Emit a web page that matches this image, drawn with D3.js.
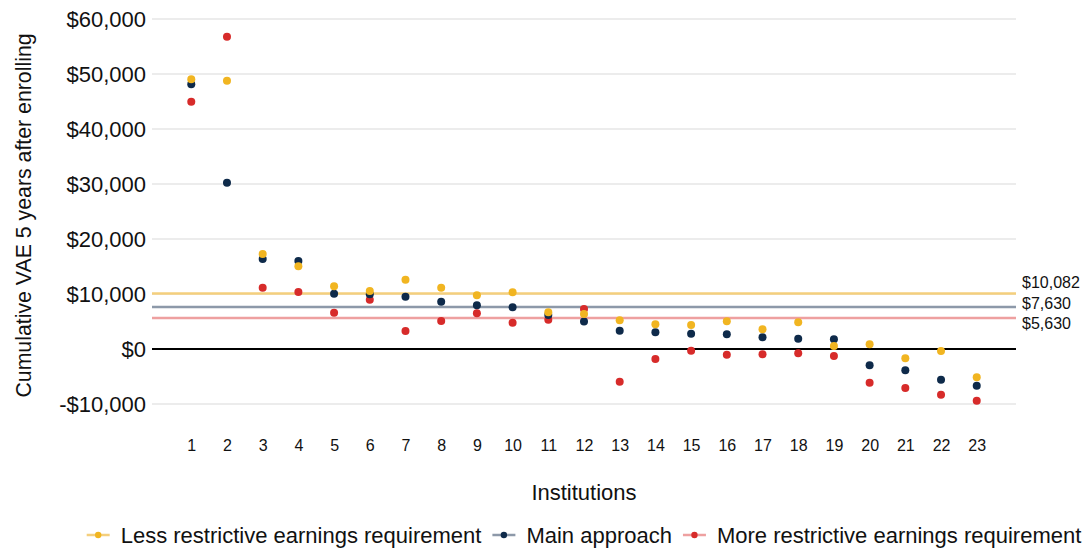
<!DOCTYPE html>
<html>
<head>
<meta charset="utf-8">
<script src="https://cdn.jsdelivr.net/npm/d3@7/dist/d3.min.js"></script>
<style>
  html, body { margin: 0; padding: 0; background: #fff; }
  svg { display: block; font-family: "Liberation Sans", Arial, sans-serif; }
</style>
</head>
<body>
<svg id="chart" width="1085" height="548"></svg>
<script>
// Institutions 1..23
const institutions = d3.range(1, 24);

// Cumulative value-added earnings 5 years after enrolling, per approach
const lessRestrictive = [49030, 48780, 17270, 15030, 11390, 10540, 12600, 11150, 9760, 10300, 6670, 6360,
                         5210, 4480, 4360, 5030, 3580, 4850, 550, 850, -1700, -360, -5150];
const mainApproach    = [48120, 30240, 16360, 16000, 10060, 9950, 9510, 8600, 7940, 7580, 6180, 5000,
                         3330, 3030, 2790, 2670, 2120, 1880, 1760, -2970, -3880, -5580, -6670];
const moreRestrictive = [44960, 56780, 11150, 10360, 6600, 8970, 3270, 5090, 6490, 4790, 5330, 7270,
                         -5940, -1820, -300, -1030, -970, -790, -1270, -6120, -7090, -8300, -9390];

// Averages across institutions for each approach
const averageValues = [10082, 7630, 5630];
const averageLabels = ["$10,082", "$7,630", "$5,630"];

const yTicks = [-10000, 0, 10000, 20000, 30000, 40000, 50000, 60000];
const seriesNames = ["Less restrictive earnings requirement", "Main approach", "More restrictive earnings requirement"];

const dotColors  = ["#F1B521", "#0E2A4A", "#D72B2A"];
const lineColors = ["#F4CF7D", "#8D99A9", "#EEA0A0"];

const svg = d3.select("#chart");
const plotLeft = 152, plotRight = 1016, plotTop = 19, plotBottom = 404;

const x = d3.scalePoint().domain(institutions).range([plotLeft, plotRight]).padding(1.1);
const y = d3.scaleLinear().domain([-10000, 60000]).range([plotBottom, plotTop]);

const fmt = v => (v < 0 ? "-$" : "$") + d3.format(",")(Math.abs(v));

// Horizontal gridlines
svg.append("g").selectAll("line").data(yTicks.filter(t => t !== 0)).join("line")
  .attr("x1", plotLeft).attr("x2", plotRight)
  .attr("y1", d => y(d)).attr("y2", d => y(d))
  .attr("stroke", "#E6E6E6").attr("stroke-width", 1.5);

// Y axis tick labels
const yAxis = svg.append("g").attr("transform", `translate(${plotLeft - 6},0)`)
  .call(d3.axisLeft(y).tickValues(yTicks).tickFormat(fmt).tickSize(0).tickPadding(0));
yAxis.select(".domain").remove();
yAxis.selectAll("text").attr("font-size", 22).attr("fill", "#111")
  .attr("font-family", "Liberation Sans, Arial, sans-serif");

// Average reference lines
svg.append("g").selectAll("line").data(averageValues).join("line")
  .attr("x1", plotLeft).attr("x2", plotRight)
  .attr("y1", d => y(d)).attr("y2", d => y(d))
  .attr("stroke", (d, i) => lineColors[i]).attr("stroke-width", 2.5);

// Zero line
svg.append("line").attr("x1", plotLeft).attr("x2", plotRight)
  .attr("y1", y(0)).attr("y2", y(0))
  .attr("stroke", "#000").attr("stroke-width", 2);

// Labels for the averages, nudged apart so they do not collide
const labelNudge = [-11, -4, 5];
svg.append("g").selectAll("text").data(averageValues).join("text")
  .attr("x", plotRight + 6)
  .attr("y", (d, i) => y(d) + labelNudge[i])
  .attr("dy", "0.35em")
  .attr("font-size", 16).attr("fill", "#111")
  .text((d, i) => averageLabels[i]);

// Dots: more restrictive underneath, less restrictive on top
const series = [moreRestrictive, mainApproach, lessRestrictive];
const seriesColor = [dotColors[2], dotColors[1], dotColors[0]];
series.forEach((vals, s) => {
  svg.append("g").selectAll("circle").data(vals).join("circle")
    .attr("cx", (d, i) => x(institutions[i]))
    .attr("cy", d => y(d))
    .attr("r", 4)
    .attr("fill", seriesColor[s]);
});

// X axis tick labels
const xAxis = svg.append("g").attr("transform", `translate(0,${plotBottom + 36})`)
  .call(d3.axisBottom(x).tickSize(0).tickPadding(0));
xAxis.select(".domain").remove();
xAxis.selectAll("text").attr("font-size", 16).attr("fill", "#111")
  .attr("font-family", "Liberation Sans, Arial, sans-serif");

// Axis titles
svg.append("text")
  .attr("x", (plotLeft + plotRight) / 2).attr("y", 500)
  .attr("text-anchor", "middle").attr("font-size", 22).attr("fill", "#111")
  .text("Institutions");

svg.append("text")
  .attr("transform", `translate(31,${(plotTop + plotBottom) / 2 + 4}) rotate(-90)`)
  .attr("text-anchor", "middle").attr("font-size", 21.3).attr("fill", "#111")
  .text("Cumulative VAE 5 years after enrolling");

// Legend
const legend = svg.append("g");
let cursor = 0;
seriesNames.forEach((name, i) => {
  const item = legend.append("g").attr("transform", `translate(${cursor},0)`);
  item.append("line").attr("x1", 0).attr("x2", 23).attr("y1", 0).attr("y2", 0)
    .attr("stroke", lineColors[i]).attr("stroke-width", 2.5);
  item.append("circle").attr("cx", 11.5).attr("cy", 0).attr("r", 3.2).attr("fill", dotColors[i]);
  const t = item.append("text").attr("x", 34).attr("y", 0).attr("dy", "0.35em")
    .attr("font-size", 22).attr("fill", "#111").text(name);
  cursor += 34 + t.node().getComputedTextLength() + 11;
});
const legendWidth = cursor - 11;
legend.attr("transform", `translate(${(plotLeft + plotRight) / 2 - legendWidth / 2},535)`);
</script>
</body>
</html>
